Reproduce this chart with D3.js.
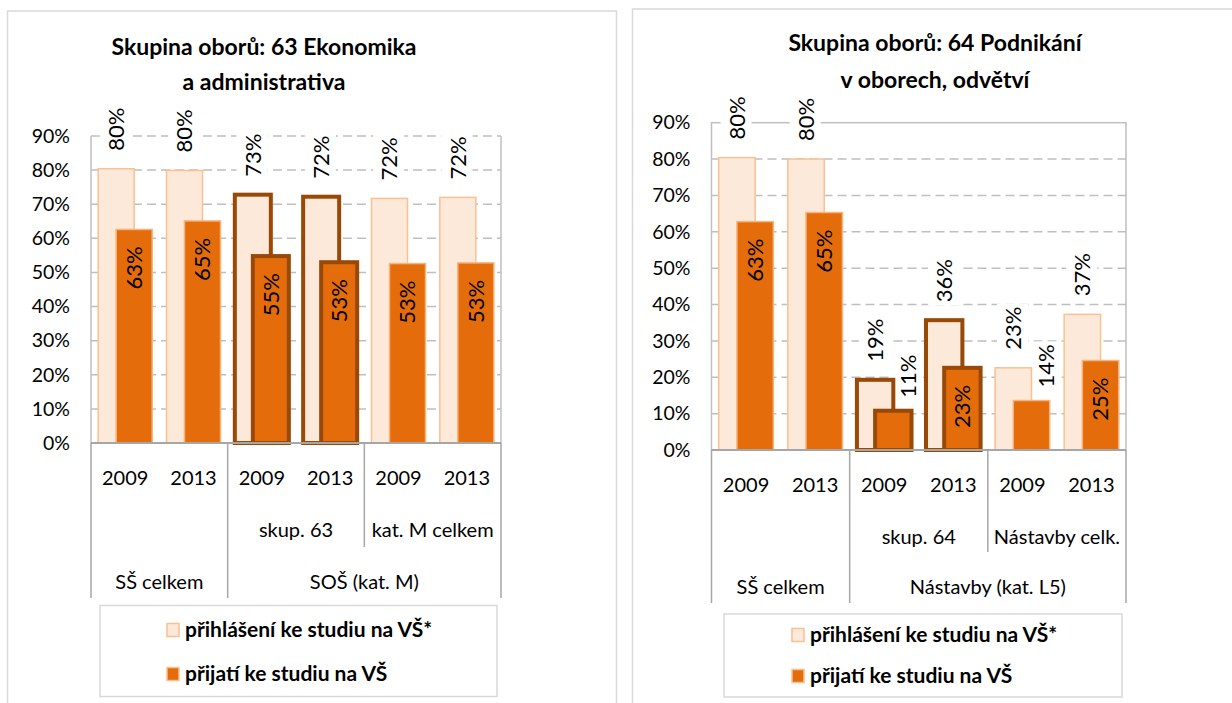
<!DOCTYPE html>
<html>
<head>
<meta charset="utf-8">
<script src="https://cdn.jsdelivr.net/npm/d3@7"></script>
<style>
body { margin: 0; background: #fff; }
svg { display: block; }
text { font-family: Lato, "Open Sans", sans-serif; fill: #000; }
</style>
</head>
<body>
<svg width="1232" height="703"></svg>
<script>
// data
const years = ['2009', '2013', '2009', '2013', '2009', '2013'];
const tickValues = [0, 10, 20, 30, 40, 50, 60, 70, 80, 90];
const seriesNames = ['přihlášení ke studiu na VŠ*', 'přijatí ke studiu na VŠ'];
const outlined = [2, 3]; // categories drawn with the thick brown border

const leftTitle = ['Skupina oborů: 63 Ekonomika', 'a administrativa'];
const leftApplied = [80.4, 79.9, 72.8, 72.2, 71.7, 72.0];
const leftAdmitted = [62.6, 65.1, 54.8, 53.0, 52.6, 52.8];
const leftMid = ['', 'skup. 63', 'kat. M celkem'];
const leftTop = ['SŠ celkem', 'SOŠ (kat. M)'];
const leftTopSpan = [2, 4];

const rightTitle = ['Skupina oborů: 64 Podnikání', 'v oborech, odvětví'];
const rightApplied = [80.4, 80.0, 19.3, 35.7, 22.6, 37.3];
const rightAdmitted = [62.8, 65.3, 10.8, 22.6, 13.6, 24.6];
const rightMid = ['', 'skup. 64', 'Nástavby celk.'];
const rightTop = ['SŠ celkem', 'Nástavby (kat. L5)'];
const rightTopSpan = [2, 4];

const lightFill = '#fde9d9', lightEdge = '#fac090';
const darkFill = '#e46c0a', darkEdge = '#f9b27a';
const brown = '#984807';
const gridColor = '#bfbfbf', axisColor = '#a6a6a6';

let svg = d3.select('svg');

function drawPanel(p) {
  let g = svg.append('g');

  // panel frame
  g.append('rect')
    .attr('x', p.frame[0]).attr('y', p.frame[1])
    .attr('width', p.frame[2]).attr('height', 760)
    .attr('fill', 'none').attr('stroke', '#d9d9d9').attr('stroke-width', 1.5);

  // title
  g.selectAll('.title')
    .data(p.title)
    .enter()
    .append('text')
    .attr('x', p.titleX)
    .attr('y', (d, i) => p.titleY[i])
    .attr('dy', '0.35em')
    .attr('text-anchor', 'middle')
    .style('font-weight', 'bold')
    .style('font-size', '23px')
    .text(d => d);

  let x = d3.scaleBand().domain(d3.range(years.length)).range([p.left, p.right]);
  let y = d3.scaleLinear().domain([0, 90]).range([p.bottom, p.top]);
  let barW = x.bandwidth() * 0.527;
  let cx = i => x(i) + x.bandwidth() / 2;

  // gridlines
  g.selectAll('.grid')
    .data(tickValues.filter(d => d > 0 && (d < 90 || !p.boxed)))
    .enter()
    .append('line')
    .attr('x1', p.left).attr('x2', p.right)
    .attr('y1', d => y(d)).attr('y2', d => y(d))
    .attr('stroke', gridColor).attr('stroke-width', 1.5)
    .attr('stroke-dasharray', '9,5');

  if (p.boxed) {
    g.append('rect')
      .attr('x', p.left).attr('y', y(90))
      .attr('width', p.right - p.left).attr('height', y(0) - y(90))
      .attr('fill', 'none').attr('stroke', gridColor).attr('stroke-width', 1.5);
  } else {
    g.selectAll('.side')
      .data([p.left, p.right])
      .enter()
      .append('line')
      .attr('x1', d => d).attr('x2', d => d)
      .attr('y1', y(90)).attr('y2', y(0))
      .attr('stroke', gridColor).attr('stroke-width', 1.5);
  }

  // y axis labels
  let yAxis = d3.axisLeft(y)
    .tickValues(tickValues)
    .tickFormat(d => d + '%')
    .tickSize(0)
    .tickPadding(p.tickPad);
  let ya = g.append('g').attr('transform', 'translate(' + p.left + ',0)').call(yAxis);
  ya.select('.domain').remove();
  ya.selectAll('text').style('font-size', '19.5px').style('font-family', 'Lato, sans-serif').attr('fill', '#000');

  let labelLayer = g.append('g');
  let barLayer = g.append('g');
  let textLayer = g.append('g');

  // bars
  barLayer.selectAll('.applied')
    .data(p.applied)
    .enter()
    .append('rect')
    .attr('x', (d, i) => cx(i) - barW * 0.75)
    .attr('y', d => y(d))
    .attr('width', barW)
    .attr('height', d => y(0) - y(d))
    .attr('fill', lightFill)
    .attr('stroke', (d, i) => outlined.includes(i) ? brown : lightEdge)
    .attr('stroke-width', (d, i) => outlined.includes(i) ? 4 : 1.5);

  barLayer.selectAll('.admitted')
    .data(p.admitted)
    .enter()
    .append('rect')
    .attr('x', (d, i) => cx(i) - barW * 0.25)
    .attr('y', d => y(d))
    .attr('width', barW)
    .attr('height', d => y(0) - y(d))
    .attr('fill', darkFill)
    .attr('stroke', (d, i) => outlined.includes(i) ? brown : darkEdge)
    .attr('stroke-width', (d, i) => outlined.includes(i) ? 4 : 1.5);

  // data labels (rotated)
  function label(value, px, py, anchor, outside) {
    let t = textLayer.append('g').attr('transform', 'translate(' + px + ',' + py + ') rotate(-90)');
    let txt = t.append('text')
      .attr('text-anchor', anchor)
      .attr('dy', '0.35em')
      .style('font-size', '22px')
      .text(Math.round(value) + '%');
    if (outside) {
      let b = txt.node().getBBox();
      labelLayer.append('rect')
        .attr('transform', 'translate(' + px + ',' + py + ') rotate(-90)')
        .attr('x', b.x - 3).attr('y', b.y - 2)
        .attr('width', b.width + 6).attr('height', b.height + 4)
        .attr('fill', '#fff');
    }
  }

  p.applied.forEach((v, i) => {
    label(v, cx(i) - barW * 0.25, y(v) - 18, 'start', true);
  });
  p.admitted.forEach((v, i) => {
    let h = y(0) - y(v);
    if (h > 68) {
      label(v, cx(i) + barW * 0.25, y(v) + 17, 'end', false);
    } else {
      label(v, cx(i) + barW * 0.75 - 3, y(v) - 13, 'start', true);
    }
  });

  // category axis
  g.append('line')
    .attr('x1', p.left).attr('x2', p.right)
    .attr('y1', y(0)).attr('y2', y(0))
    .attr('stroke', axisColor).attr('stroke-width', 2);

  let catSize = '20px';
  g.selectAll('.year')
    .data(years)
    .enter()
    .append('text')
    .attr('x', (d, i) => cx(i))
    .attr('y', y(0) + 35)
    .attr('dy', '0.35em')
    .attr('text-anchor', 'middle')
    .style('font-size', catSize)
    .text(d => d);

  g.selectAll('.mid')
    .data(p.mid)
    .enter()
    .append('text')
    .attr('x', (d, i) => (x(i * 2) + x(i * 2 + 1) + x.bandwidth()) / 2)
    .attr('y', y(0) + 87)
    .attr('dy', '0.35em')
    .attr('text-anchor', 'middle')
    .style('font-size', catSize)
    .text(d => d);

  let starts = [0];
  p.topSpan.forEach((s, i) => starts.push(starts[i] + s));
  g.selectAll('.top')
    .data(p.topLabels)
    .enter()
    .append('text')
    .attr('x', (d, i) => (x(starts[i]) + x(starts[i + 1] - 1) + x.bandwidth()) / 2)
    .attr('y', y(0) + p.row3)
    .attr('dy', '0.35em')
    .attr('text-anchor', 'middle')
    .style('font-size', catSize)
    .text(d => d);

  // separators
  let fullSeps = starts.map(s => s < years.length ? x(s) : p.right);
  g.selectAll('.sepFull')
    .data(fullSeps)
    .enter()
    .append('line')
    .attr('x1', d => d).attr('x2', d => d)
    .attr('y1', y(0)).attr('y2', y(0) + p.sepLen)
    .attr('stroke', axisColor).attr('stroke-width', 1.5);

  let midSeps = d3.range(2, years.length, 2).filter(s => !starts.includes(s));
  g.selectAll('.sepMid')
    .data(midSeps)
    .enter()
    .append('line')
    .attr('x1', d => x(d)).attr('x2', d => x(d))
    .attr('y1', y(0)).attr('y2', y(0) + p.midSepLen)
    .attr('stroke', axisColor).attr('stroke-width', 1.5);

  // legend
  let lg = g.append('g');
  lg.append('rect')
    .attr('x', p.legend[0]).attr('y', p.legend[1])
    .attr('width', p.legend[2]).attr('height', p.legend[3])
    .attr('fill', '#fff').attr('stroke', '#d9d9d9').attr('stroke-width', 1.5);
  let items = lg.selectAll('.item')
    .data(seriesNames)
    .enter()
    .append('g')
    .attr('transform', (d, i) => 'translate(' + p.legendX + ',' + p.legendY[i] + ')');
  items.append('rect')
    .attr('x', 0).attr('y', -6.5)
    .attr('width', 12).attr('height', 13)
    .attr('fill', (d, i) => i === 0 ? lightFill : darkFill)
    .attr('stroke', lightEdge).attr('stroke-width', 1.5);
  items.append('text')
    .attr('x', 18)
    .attr('dy', '0.35em')
    .style('font-weight', 'bold')
    .style('font-size', '21px')
    .text(d => d);
}

drawPanel({
  frame: [7.5, 11, 609], title: leftTitle, titleX: 264, titleY: [47, 82],
  left: 91, right: 501, bottom: 443, top: 136, boxed: false, tickPad: 21,
  applied: leftApplied, admitted: leftAdmitted,
  mid: leftMid, topLabels: leftTop, topSpan: leftTopSpan,
  row3: 139, sepLen: 155, midSepLen: 104,
  legend: [100, 605.5, 397, 91], legendX: 167, legendY: [630, 674]
});

drawPanel({
  frame: [632.5, 9, 700], title: rightTitle, titleX: 935, titleY: [43, 80],
  left: 711.5, right: 1126, bottom: 450, top: 122.7, boxed: true, tickPad: 21,
  applied: rightApplied, admitted: rightAdmitted,
  mid: rightMid, topLabels: rightTop, topSpan: rightTopSpan,
  row3: 137, sepLen: 153, midSepLen: 102,
  legend: [724, 614, 398, 83], legendX: 792, legendY: [635, 676]
});
</script>
</body>
</html>
